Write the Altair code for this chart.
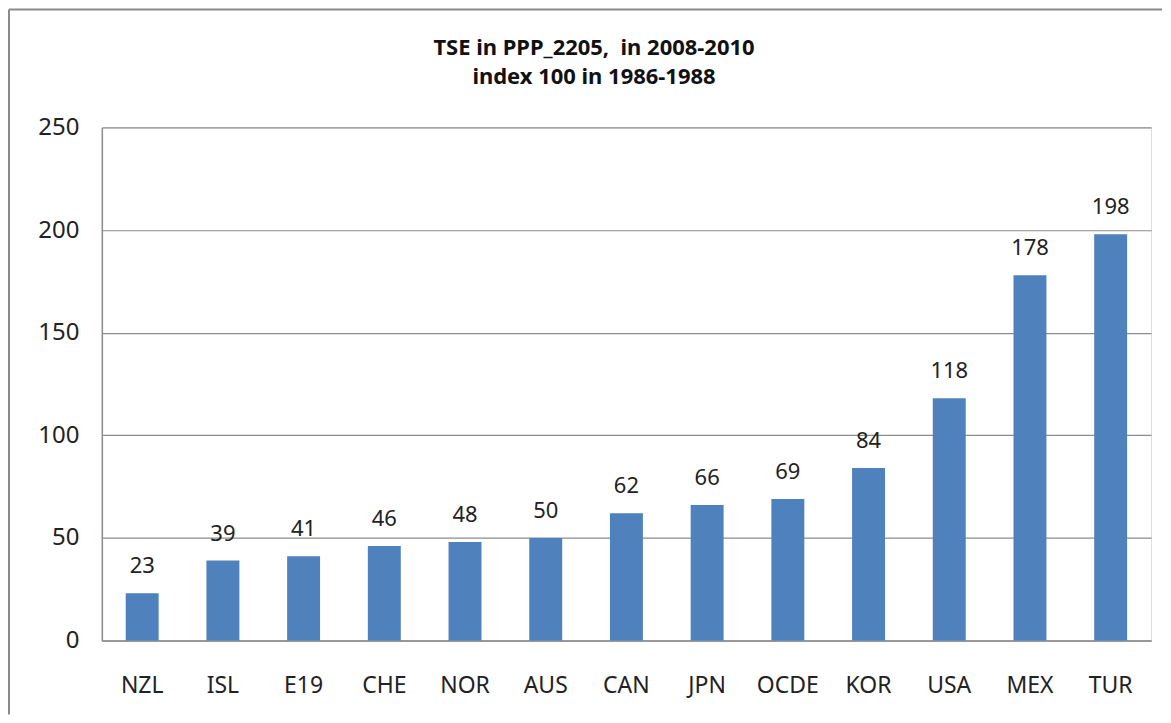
import altair as alt
import pandas as pd

countries = ["NZL", "ISL", "E19", "CHE", "NOR", "AUS", "CAN", "JPN", "OCDE", "KOR", "USA", "MEX", "TUR"]
values = [23, 39, 41, 46, 48, 50, 62, 66, 69, 84, 118, 178, 198]
title_lines = ["TSE in PPP_2205,\u00a0 in 2008-2010", "index 100 in 1986-1988"]
y_ticks = [0, 50, 100, 150, 200, 250]

FONT = "Noto Sans"
W, H = 1051, 514

df = pd.DataFrame({"country": countries, "value": values})

x_enc = alt.X("country:N", sort=countries, title=None,
              scale=alt.Scale(paddingInner=0.59, paddingOuter=0.295),
              axis=alt.Axis(labelAngle=0, labelFont=FONT, labelFontSize=23, labelColor="#222",
                            labelPadding=34, ticks=False, domainColor="#8c8c8c", domainWidth=1.5,
                            grid=False))
y_enc = alt.Y("value:Q", title=None,
              scale=alt.Scale(domain=[0, 250], nice=False),
              axis=alt.Axis(values=y_ticks, labelFont=FONT, labelFontSize=24, labelColor="#222",
                            labelPadding=23, ticks=False, domainColor="#8c8c8c", domainWidth=1.5,
                            grid=True, gridColor="#8c8c8c", gridWidth=1.2))

bars = alt.Chart(df).mark_bar(color="#4F81BD", size=33).encode(x=x_enc, y=y_enc)
labels = alt.Chart(df).mark_text(font=FONT, fontSize=22, color="#222", baseline="middle", dy=-27).encode(
    x=alt.X("country:N", sort=countries), y="value:Q", text="value:Q")

t1 = alt.Chart(pd.DataFrame({"t": [title_lines[0]]})).mark_text(
    font=FONT, fontSize=22, fontWeight="bold", color="#111", baseline="middle", align="center"
).encode(x=alt.value(493), y=alt.value(-80), text="t:N")
t2 = alt.Chart(pd.DataFrame({"t": [title_lines[1]]})).mark_text(
    font=FONT, fontSize=22, fontWeight="bold", color="#111", baseline="middle", align="center"
).encode(x=alt.value(493), y=alt.value(-50), text="t:N")

one = pd.DataFrame({"a": [0]})
left_border = alt.Chart(one).mark_rule(color="#8a8a8a", strokeWidth=2).encode(
    x=alt.value(-93), y=alt.value(-118), y2=alt.value(588))
top_border = alt.Chart(one).mark_rule(color="#8a8a8a", strokeWidth=2).encode(
    x=alt.value(-93), x2=alt.value(1062), y=alt.value(-118))

chart = alt.layer(left_border, top_border, bars, labels, t1, t2).properties(
    width=W, height=H, padding=0
).configure_view(stroke=None).configure(background="white")

chart.save("out.html", embed_options={"renderer": "svg", "actions": False})
